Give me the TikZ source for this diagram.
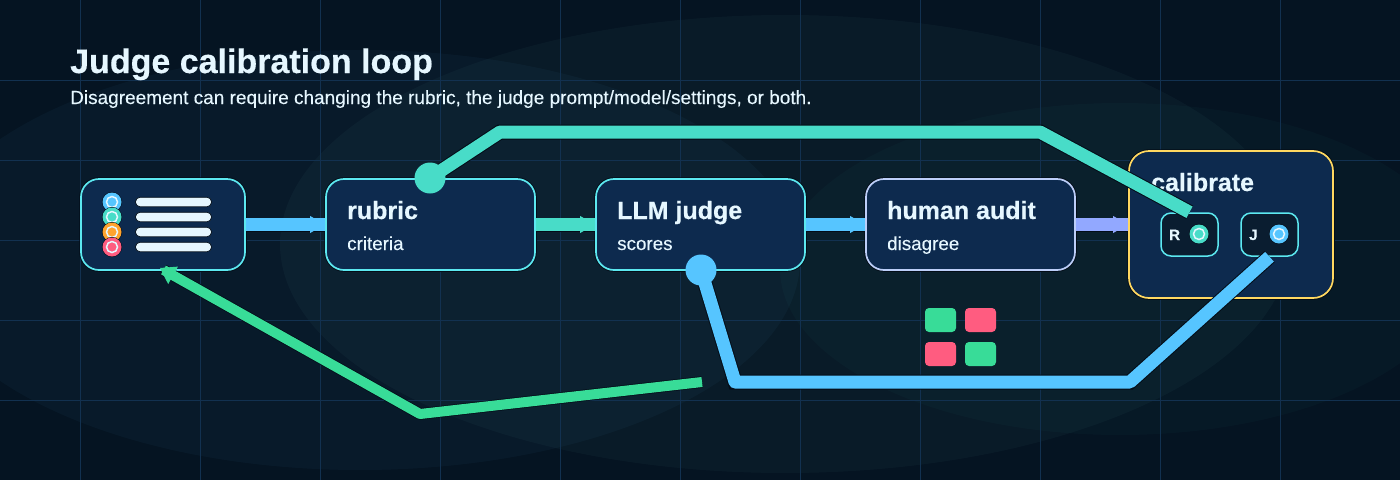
\documentclass[tikz,border=0pt]{standalone}
\usepackage{fontspec}
\setmainfont{Liberation Sans}[FakeBold=0.12,BoldFeatures={FakeBold=0.35}]
\usetikzlibrary{arrows.meta}
\definecolor{bgc}{HTML}{051422}
\definecolor{gridc}{HTML}{123150}
\definecolor{boxfill}{HTML}{0D2A4E}
\definecolor{halo}{HTML}{030D18}
\definecolor{sky}{HTML}{56C5FF}
\definecolor{teal}{HTML}{48DCC8}
\definecolor{mint}{HTML}{38DC98}
\definecolor{peri}{HTML}{92A8FF}
\definecolor{edgec}{HTML}{5CE8F0}
\definecolor{lav}{HTML}{BCCEF8}
\definecolor{gold}{HTML}{FFD860}
\definecolor{pinkc}{HTML}{FF5C80}
\definecolor{orangec}{HTML}{FFA32E}
\definecolor{ink}{HTML}{E6F7FF}
\definecolor{chipc}{HTML}{0A1D30}
\definecolor{glowb}{HTML}{80D0D0}
\tikzset{
  x=1pt,y=-1pt,
  box/.style={draw=#1,line width=1.7pt,fill=boxfill,rounded corners=18pt,inner sep=0pt,
    preaction={draw=halo,line width=3.5pt}},
  stepbox/.style={box=edgec,minimum width=209pt,minimum height=91pt},
  chip/.style={draw=edgec,line width=1.5pt,fill=chipc,rounded corners=10pt,minimum width=57pt,minimum height=43pt,inner sep=0pt},
  head/.style={font=\bfseries\fontsize{25}{29}\selectfont,text=ink,anchor=base west,inner sep=0pt},
  sub/.style={font=\fontsize{18.8}{22}\selectfont,text=ink,anchor=base west,inner sep=0pt},
  chiplabel/.style={font=\bfseries\fontsize{15}{18}\selectfont,text=ink,anchor=base west,inner sep=0pt},
  flow/.style={draw=#1,line width=1pt,-{Triangle[length=15pt,width=17pt,line width=0pt,color=#1]},
    preaction={draw=halo,line width=14pt,-{}},
    preaction={draw=#1,line width=12.5pt,-{}}},
  route/.style n args={2}{draw=#1,line width=#2,line join=round,
    preaction={draw=halo,line width=#2+2pt}},
  backflow/.style={draw=mint,line width=1pt,line join=round,
    -{Triangle[length=15pt,width=20pt,line width=0pt,color=mint]},
    preaction={draw=halo,line width=11.5pt,line join=round,shorten >=4pt,-{}},
    preaction={draw=mint,line width=10pt,line join=round,shorten >=4pt,-{}}},
  dotn/.style={circle,fill=#1,minimum size=31pt,inner sep=0pt},
  ringdot/.style={circle,fill=#1,minimum size=19pt,inner sep=0pt,
    preaction={draw=halo,line width=1pt}},
  ringin/.style={circle,draw=ink,line width=1.5pt,fill=#1,minimum size=11pt,inner sep=0pt},
  bar/.style={fill=ink,draw=halo,line width=.7pt,rounded corners=4.5pt,minimum width=76pt,minimum height=9.5pt,inner sep=0pt},
  tile/.style={fill=#1,rounded corners=4pt,minimum width=31pt,minimum height=24pt,inner sep=0pt},
}
\begin{document}
\begin{tikzpicture}
\useasboundingbox (0,0) rectangle (1400,480);
\fill[bgc] (0,0) rectangle (1400,480);
\begin{scope}
\clip (0,0) rectangle (1400,480);
\fill[sky,opacity=0.04] (360,260) ellipse [x radius=440,y radius=210];
\fill[glowb,opacity=0.04] (785,244) ellipse [x radius=505,y radius=229];
\fill[teal,opacity=0.028] (1120,269) ellipse [x radius=340,y radius=166];
\draw[gridc,line width=1pt]
  \foreach \gx in {80,200,...,1280} {(\gx,0) -- (\gx,480)}
  \foreach \gy in {80,160,...,400} {(0,\gy) -- (1400,\gy)};
\end{scope}

\node[font=\bfseries\fontsize{34}{40}\selectfont,text=ink,anchor=base west,inner sep=0pt] (title) at (70,73) {Judge calibration loop};
\node[font=\fontsize{19}{23}\selectfont,text=ink,anchor=base west,inner sep=0pt] (subtitle) at (70,104) {Disagreement can require changing the rubric, the judge prompt/model/settings, or both.};

\node[box=edgec,minimum width=164pt,minimum height=91pt] (src) at (163,224.5) {};
\node[stepbox] (rubric) at (430.5,224.5) {};
\node[stepbox] (judge) at (700.5,224.5) {};
\node[box=lav,minimum width=209pt,minimum height=91pt] (audit) at (970.5,224.5) {};
\node[box=gold,minimum width=204pt,minimum height=147pt,rounded corners=20pt] (calib) at (1231,224.5) {};

\draw[flow=sky] (src.east) -- (rubric.west);
\draw[flow=teal] (rubric.east) -- (judge.west);
\draw[flow=sky] (judge.east) -- (audit.west);
\draw[flow=peri] (audit.east) -- (calib.west);

\foreach \cy/\cc in {202/sky,217/teal,232/orangec,247/pinkc}{
  \node[ringdot=\cc] (ro\cy) at (112,\cy) {};
  \node[ringin=\cc] (ri\cy) at (112,\cy) {};
  \node[bar] (bar\cy) at (173.5,\cy) {};
}

\node[head] (rubrich) at (347,219) {rubric};
\node[sub] (rubrics) at (347,250) {criteria};
\node[head] (judgeh) at (617,219) {LLM judge};
\node[sub] (judges) at (617,250) {scores};
\node[head] (audith) at (887,219) {human audit};
\node[sub] (audits) at (887,250) {disagree};
\node[head] (calibh) at (1151,191) {calibrate};

\node[chip] (chipR) at (1189.5,234.5) {};
\node[chip] (chipJ) at (1269.5,234.5) {};
\node[chiplabel] (chipRl) at (1169,240) {R};
\node[chiplabel] (chipJl) at (1249,240) {J};
\node[ringdot=teal] (chipRo) at (1199,234) {};
\node[ringin=teal] (chipRi) at (1199,234) {};
\node[ringdot=sky] (chipJo) at (1279,234) {};
\node[ringin=sky] (chipJi) at (1279,234) {};

\node[tile=mint] (t1) at (940.5,320) {};
\node[tile=pinkc] (t2) at (980.5,320) {};
\node[tile=pinkc] (t3) at (940.5,354) {};
\node[tile=mint] (t4) at (980.5,354) {};

\coordinate (dotRc) at (430,178);
\coordinate (dotJc) at (701,270);
\coordinate (tr1) at (1040,132);
\coordinate (tr2) at (500,132);
\coordinate (br1) at (1130,382);
\coordinate (br2) at (735,382);
\coordinate (gstart) at (702,382);
\coordinate (gmid) at (420,414);
\coordinate (gend) at (160,268);

\draw[route={teal}{13pt}] (chipR.north) -- (tr1) -- (tr2) -- (dotRc);
\draw[route={sky}{13pt}] (chipJ.south) -- (br1) -- (br2) -- (dotJc);
\node[dotn=teal] (dotR) at (dotRc) {};
\node[dotn=sky] (dotJ) at (dotJc) {};
\draw[backflow] (gstart) -- (gmid) -- (gend);
\end{tikzpicture}
\end{document}
